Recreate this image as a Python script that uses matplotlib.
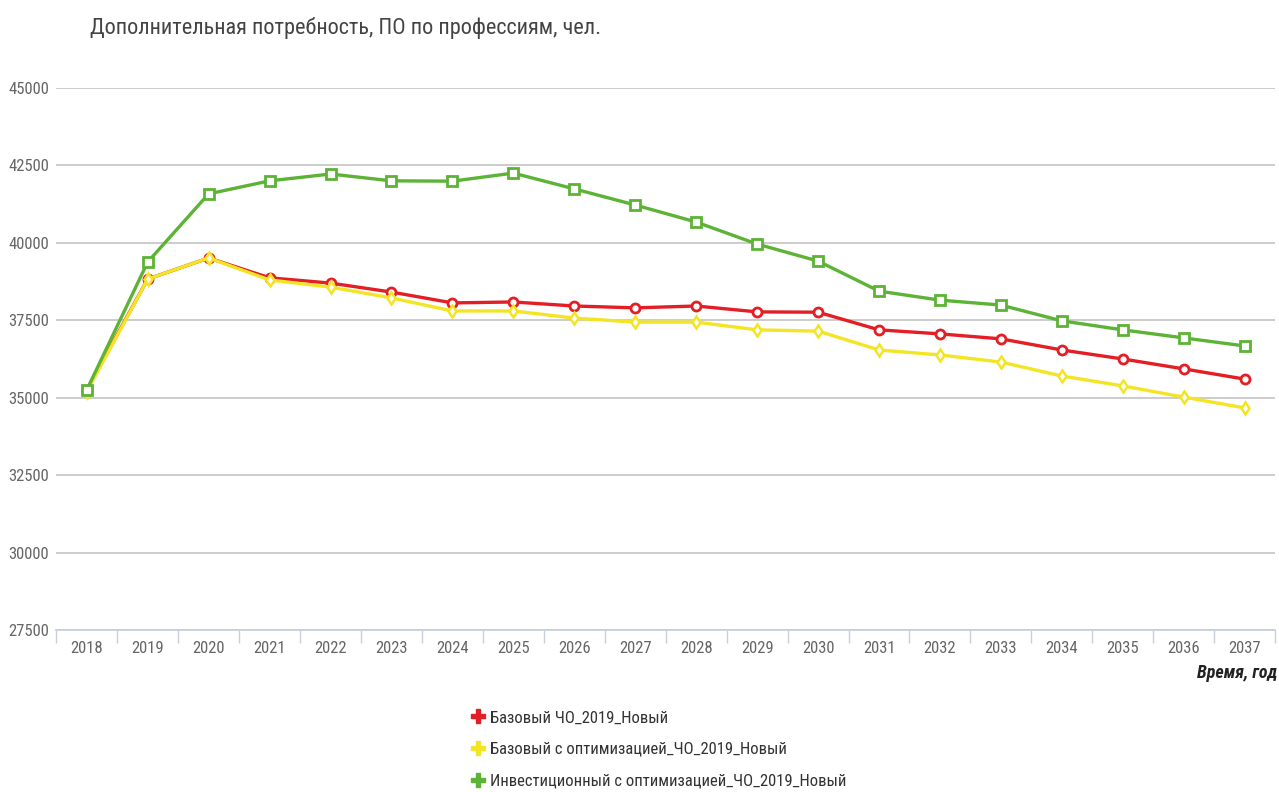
import matplotlib.pyplot as plt
from matplotlib.lines import Line2D

plt.rcParams['font.family'] = ['Roboto Condensed', 'PT Sans Narrow', 'DejaVu Sans']

years = list(range(2018, 2038))

# Базовый ЧО_2019_Новый
base = [35250, 38830, 39510, 38870, 38700, 38410, 38060, 38090, 37960, 37900,
        37960, 37770, 37760, 37190, 37060, 36900, 36540, 36250, 35930, 35600]
# Базовый с оптимизацией_ЧО_2019_Новый
base_opt = [35190, 38830, 39510, 38800, 38570, 38220, 37800, 37800, 37570, 37440,
            37440, 37190, 37150, 36540, 36380, 36150, 35700, 35380, 35020, 34670]
# Инвестиционный с оптимизацией_ЧО_2019_Новый
invest = [35250, 39380, 41580, 42000, 42220, 42000, 41990, 42250, 41740, 41220,
          40670, 39960, 39410, 38440, 38150, 37990, 37480, 37190, 36930, 36670]

labels = ['Базовый ЧО_2019_Новый',
          'Базовый с оптимизацией_ЧО_2019_Новый',
          'Инвестиционный с оптимизацией_ЧО_2019_Новый']
colors = ['#e31e24', '#f3e524', '#5cb335']
yticks = [27500, 30000, 32500, 35000, 37500, 40000, 42500, 45000]

fig = plt.figure(figsize=(12.79, 7.92), dpi=100)
ax = fig.add_axes([0.044, 0.2045, 0.953, 0.6845])

ax.plot(years, base, color=colors[0], lw=2.4, marker='o', ms=6.5,
        mfc='white', mec=colors[0], mew=2, zorder=3)
ax.plot(years, base_opt, color=colors[1], lw=2.4, marker='d', ms=6.5,
        mfc='white', mec=colors[1], mew=1.8, zorder=4)
ax.plot(years, invest, color=colors[2], lw=2.4, marker='s', ms=6.5,
        mfc='white', mec=colors[2], mew=2, zorder=5)

ax.set_xlim(2017.5, 2037.5)
ax.set_ylim(27500, 45000)
ax.set_yticks(yticks)
ax.set_yticklabels([str(v) for v in yticks], fontsize=12, color='#666666')
ax.yaxis.grid(True, color='#c8c8c8', lw=1.3)
ax.tick_params(axis='y', length=0, pad=5)

ax.set_xticks(years)
ax.set_xticklabels([str(y) for y in years], fontsize=12, color='#666666')
ax.set_xticks([y + 0.5 for y in [2017] + years], minor=True)
ax.tick_params(axis='x', which='major', length=0, pad=8)
ax.tick_params(axis='x', which='minor', length=9, color='#c8d0dc', width=1)

for s in ['top', 'right', 'left']:
    ax.spines[s].set_visible(False)
ax.spines['bottom'].set_color('#c8d0dc')
ax.spines['bottom'].set_linewidth(1.3)

fig.text(90 / 1279, 1 - 28 / 792, 'Дополнительная потребность, ПО по профессиям, чел.',
         fontsize=16, color='#444444', va='center', ha='left')
fig.text(1277 / 1279, 1 - 673 / 792, 'Время, год', fontsize=13, color='#222222',
         fontweight='bold', fontstyle='italic', ha='right', va='center')

handles = [Line2D([], [], ls='none', marker='P', ms=10, color=c) for c in colors]
fig.legend(handles, labels, loc='upper left', bbox_to_anchor=(463 / 1279, 1 - 702 / 792),
           frameon=False, fontsize=12, labelcolor='#333333', handlelength=0.8,
           handletextpad=0.3, labelspacing=1.0, borderpad=0)

fig.savefig('out.png', dpi=100)
